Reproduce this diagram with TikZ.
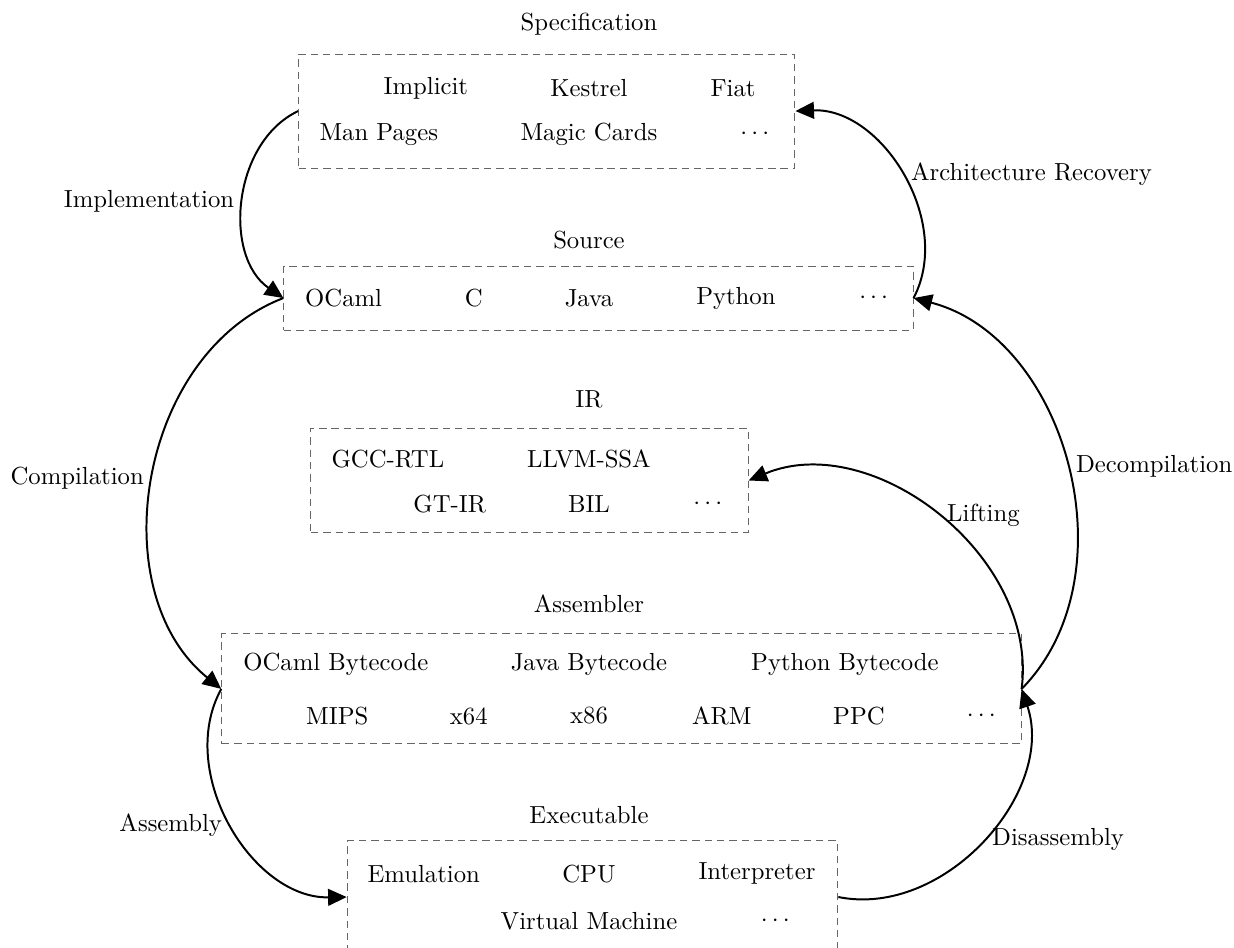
\documentclass[tikz,border=0pt]{standalone}
\usepackage{tikz}
\usetikzlibrary{arrows.meta,positioning}

\begin{document}
\begin{tikzpicture}[
    box/.style={draw=black!60, densely dashed, inner sep=0pt},
    flow/.style={-{Triangle[length=7.5pt,width=6.8pt]}, thick, bend right=60}
  ]
  \useasboundingbox (-8.378,0) rectangle (9.175,-13.471);

  %Specification
  \node (spectitle) at (0,-0.34) {Specification};
  \node[box, minimum width=7.06cm, minimum height=1.62cm] (spec) at (-0.60,-1.58) {};
  \node (implicit) at (-2.32,-1.25) {Implicit};
  \node (kestrel) at (0,-1.25) {Kestrel};
  \node (fiat) at (2.05,-1.25) {Fiat};
  \node (manpages) at (-2.99,-1.91) {Man Pages};
  \node (magic) at (0,-1.91) {Magic Cards};
  \node (specdots) at (2.36,-1.91) {$\cdots$};

  %Source
  \node (srctitle) at (0,-3.41) {Source};
  \node[box, minimum width=8.95cm, minimum height=0.91cm] (src) at (0.135,-4.24) {};
  \node (ocaml) at (-3.49,-4.24) {OCaml};
  \node (c) at (-1.64,-4.24) {C};
  \node (java) at (0,-4.24) {Java};
  \node (python) at (2.09,-4.24) {Python};
  \node (srcdots) at (4.05,-4.24) {$\cdots$};

  %IR
  \node (irtitle) at (0,-5.68) {IR};
  \node[box, minimum width=6.22cm, minimum height=1.49cm] (ir) at (-0.846,-6.835) {};
  \node (gccrtl) at (-2.86,-6.53) {GCC-RTL};
  \node (llvm) at (0,-6.53) {LLVM-SSA};
  \node (gtir) at (-1.98,-7.17) {GT-IR};
  \node (bil) at (0,-7.17) {BIL};
  \node (irdots) at (1.69,-7.17) {$\cdots$};

  %Assembler
  \node (asmtitle) at (0,-8.59) {Assembler};
  \node[box, minimum width=11.37cm, minimum height=1.565cm] (asm) at (0.462,-9.80) {};
  \node (ocamlbc) at (-3.60,-9.445) {OCaml Bytecode};
  \node (javabc) at (0,-9.445) {Java Bytecode};
  \node (pythonbc) at (3.64,-9.445) {Python Bytecode};
  \node (mips) at (-3.58,-10.185) {MIPS};
  \node (xsixtyfour) at (-1.71,-10.185) {x64};
  \node (xeightysix) at (0,-10.185) {x86};
  \node (arm) at (1.89,-10.185) {ARM};
  \node (ppc) at (3.84,-10.185) {PPC};
  \node (asmdots) at (5.58,-10.185) {$\cdots$};

  %Executable
  \node (exetitle) at (0,-11.59) {Executable};
  \node[box, minimum width=6.98cm, minimum height=1.60cm] (exe) at (0.05,-12.76) {};
  \node (emulation) at (-2.35,-12.43) {Emulation};
  \node (cpu) at (0,-12.43) {CPU};
  \node (interp) at (2.39,-12.43) {Interpreter};
  \node (vm) at (0,-13.10) {Virtual Machine};
  \node (exedots) at (2.65,-13.10) {$\cdots$};

  %Arrows
  \draw[flow] (spec.west) to node[left] {Implementation} (src.west);
  \draw[flow] (src.west) to node[left] {Compilation} (asm.west);
  \draw[flow] (asm.west) to node[left] {Assembly} (exe.west);
  \draw[flow] (exe.east) to node[right] {Disassembly} (asm.east);
  \draw[flow] (asm.east) to node[right] {Lifting} (ir.east);
  \draw[flow] (asm.east) to node[right] {Decompilation} (src.east);
  \draw[flow] (src.east) to node[right] {Architecture Recovery} (spec.east);
\end{tikzpicture}
\end{document}
